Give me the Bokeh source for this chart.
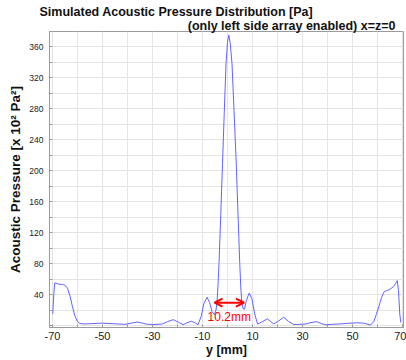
from bokeh.plotting import figure
from bokeh.models import FixedTicker, Label, Arrow, OpenHead, Range1d, Title
from bokeh.embed import file_html
from bokeh.resources import INLINE

# ---- data ----
y_mm = [-69.9, -69.5, -69.1, -68.0, -67.0, -66.0, -65.0, -64.0, -63.0, -62.0,
        -61.0, -60.0, -59.0, -57.0, -55.0, -52.0, -50.0, -47.0, -44.0, -41.0,
        -38.5, -36.2, -34.0, -32.0, -29.0, -26.0, -24.0, -21.7, -19.5, -17.7,
        -16.2, -14.5, -13.0, -11.8, -10.5, -9.5, -8.2, -7.2, -6.2, -5.2,
        -4.6, -4.2, -3.8, -3.4, -2.7, -2.0, -1.3, -0.6, 0.0, 0.5,
        1.1, 1.8, 2.6, 3.5, 4.2, 4.9, 5.3, 5.7, 6.2, 6.8,
        7.5, 8.7, 9.8, 10.8, 12.0, 13.5, 15.9, 17.3, 18.5, 20.5,
        22.5, 24.5, 26.5, 29.0, 31.0, 33.0, 35.6, 37.5, 39.2, 42.0,
        45.0, 48.0, 52.0, 54.5, 57.2, 58.5, 59.5, 60.5, 61.5, 62.5,
        63.5, 64.5, 65.5, 66.3, 67.2, 67.9, 68.4, 68.9, 69.3]
pressure = [15, 40, 55, 54, 53, 53, 52, 48, 38, 24,
            12, 5, 2.5, 2, 2.3, 2.8, 3, 2.5, 2, 1.5,
            3, 4.5, 3, 1.5, 1.3, 2, 5, 7.5, 4, 1,
            3.5, 5.5, 3.5, 1, 12, 28, 36.5, 30, 18, 14,
            20, 30, 52, 80, 143, 209, 275, 338, 366, 375,
            364, 338, 278, 209, 143, 80, 50, 30, 22, 21,
            32, 42, 34, 16, 2, 4, 8.6, 5, 2, 6,
            10.7, 5, 1.3, 1.5, 1.8, 3.5, 5, 2.5, 1, 1.5,
            2, 2.8, 3.5, 3, 0.5, 5, 14, 24, 35, 43,
            45, 46, 48, 50, 54, 58, 45, 15, 4]

x_tick_values = [-70, -50, -30, -10, 10, 30, 50, 70]
x_minor_values = [-60, -40, -20, 0, 20, 40, 60]
y_tick_values = [40, 80, 120, 160, 200, 240, 280, 320, 360]
y_minor_values = [0, 20, 60, 100, 140, 180, 220, 260, 300, 340]

fwhm_start, fwhm_end, fwhm_level = -5.2, 6.6, 29.5
fwhm_text = "10.2mm"

title_main = "Simulated Acoustic Pressure Distribution [Pa]"
title_sub = "(only left side array enabled) x=z=0"

FONT = "Liberation Sans"

p = figure(width=406, height=360, output_backend="svg", toolbar_location=None,
           x_range=Range1d(-71.2, 70.4), y_range=Range1d(-2.6, 379.7),
           min_border_left=49, min_border_right=3, min_border_top=31,
           min_border_bottom=33)
p.background_fill_color = "white"
p.border_fill_color = "white"
p.outline_line_color = "#9a9a9a"
p.outline_line_width = 1

p.line(y_mm, pressure, line_color="#5b5bff", line_width=1, line_alpha=0.95)

# axes
p.xaxis.ticker = FixedTicker(ticks=x_tick_values, minor_ticks=x_minor_values)
p.yaxis.ticker = FixedTicker(ticks=y_tick_values, minor_ticks=y_minor_values)
p.xaxis.major_label_overrides = {t: str(t) for t in x_tick_values}
for ax in (p.xaxis[0], p.yaxis[0]):
    ax.axis_line_color = "#9a9a9a"
    ax.major_tick_line_color = "#9a9a9a"
    ax.minor_tick_line_color = "#9a9a9a"
    ax.major_tick_in = 3
    ax.major_tick_out = 0
    ax.minor_tick_in = 3
    ax.minor_tick_out = 0
    ax.major_label_text_font = FONT
    ax.major_label_text_color = "#222222"
    ax.axis_label_text_font = FONT
    ax.axis_label_text_font_style = "bold"
    ax.axis_label_text_color = "#111111"
p.xaxis.major_label_text_font_size = "11px"
p.yaxis.major_label_text_font_size = "8.5px"
p.xaxis.axis_label = "y [mm]"
p.xaxis.axis_label_text_font_size = "12.5px"
p.xaxis.major_label_standoff = 4
p.xaxis.axis_label_standoff = 0
p.yaxis.axis_label = "Acoustic Pressure [x 10² Pa²]"
p.yaxis.axis_label_text_font_size = "13.5px"
p.yaxis.major_label_standoff = 6
p.yaxis.axis_label_standoff = 3

for g in (p.xgrid[0], p.ygrid[0]):
    g.grid_line_color = "#e4e4e4"
    g.minor_grid_line_color = "#e4e4e4"

# titles (inner first, outer last)
p.add_layout(Title(text=title_sub, align="right", offset=8, standoff=-3,
                   text_font=FONT, text_font_style="bold",
                   text_font_size="12.5px", text_color="#111111"), "above")
p.add_layout(Title(text=title_main, align="left", offset=-10, standoff=0,
                   text_font=FONT, text_font_style="bold",
                   text_font_size="12.5px", text_color="#111111"), "above")

# FWHM annotation
p.add_layout(Arrow(x_start=fwhm_start, y_start=fwhm_level, x_end=fwhm_end,
                   y_end=fwhm_level, line_color="red", line_width=2,
                   start=OpenHead(size=8, line_color="red", line_width=2),
                   end=OpenHead(size=8, line_color="red", line_width=2)))
p.add_layout(Label(x=(fwhm_start + fwhm_end) / 2, y=11, text=fwhm_text,
                   text_font=FONT, text_font_size="12px", text_color="red",
                   text_align="center", text_baseline="middle"))

open("out.html", "w").write(file_html(p, INLINE))
